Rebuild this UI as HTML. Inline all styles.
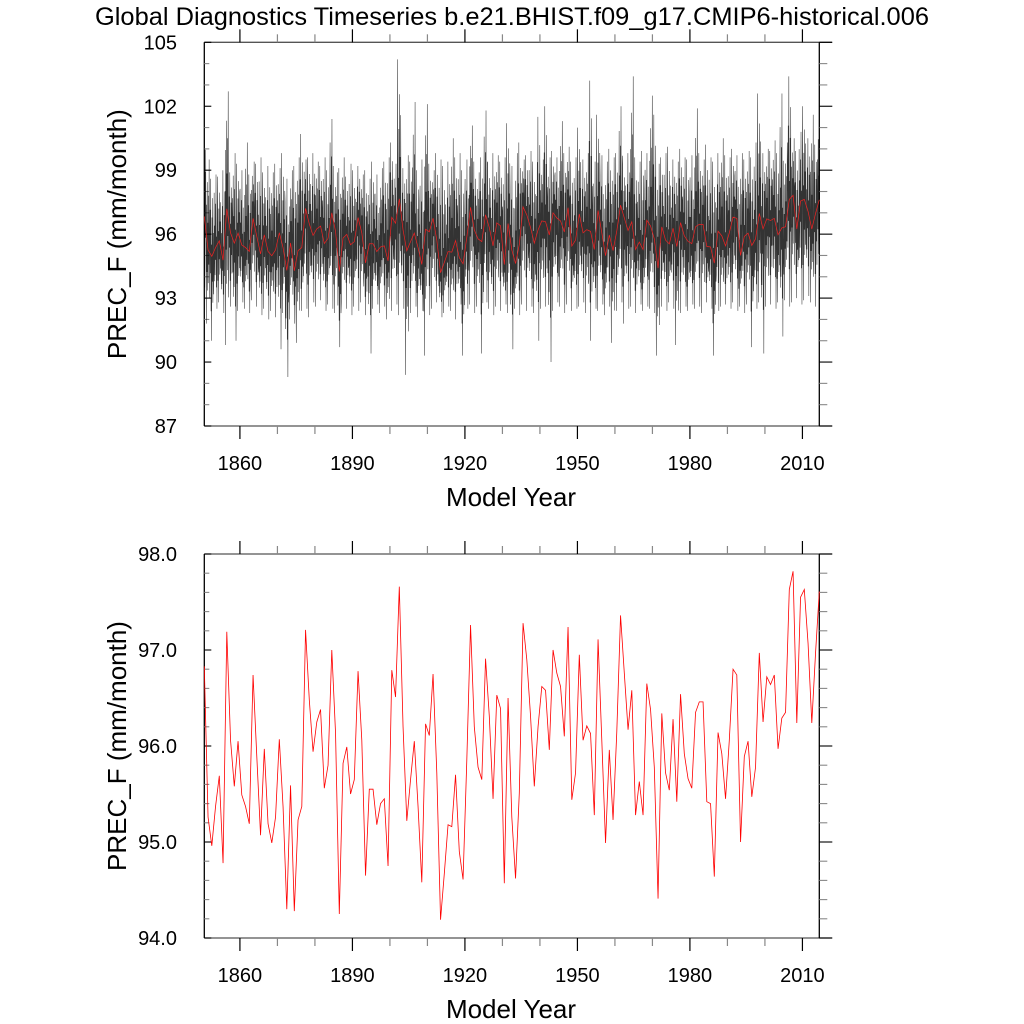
<!DOCTYPE html>
<html><head><meta charset="utf-8">
<style>
html,body{margin:0;padding:0;background:#fff;}
svg{display:block;font-family:"Liberation Sans",Arial,sans-serif;}
</style></head>
<body>
<svg id="chart" width="1024" height="1024" viewBox="0 0 1024 1024" xmlns="http://www.w3.org/2000/svg">
<rect width="1024" height="1024" fill="#fff"/>
<text x="512" y="25" font-size="25" text-anchor="middle" textLength="834" lengthAdjust="spacingAndGlyphs">Global Diagnostics Timeseries b.e21.BHIST.f09_g17.CMIP6-historical.006</text>
<g id="top"></g>
<g id="bot"></g>
</svg>
<script>
const annual = [96.83,95.26,94.96,95.37,95.69,94.78,97.19,96.06,95.58,96.05,
95.49,95.37,95.19,96.74,95.89,95.07,95.97,95.19,94.99,95.26,
96.07,95.37,94.30,95.59,94.28,95.23,95.37,97.21,96.48,95.94,
96.25,96.38,95.56,95.80,97.00,96.13,94.25,95.82,95.99,95.50,
95.65,96.78,96.06,94.65,95.55,95.55,95.18,95.40,95.45,94.75,
96.79,96.51,97.66,96.20,95.22,95.65,96.05,95.37,94.58,96.23,
96.11,96.75,95.72,94.19,94.67,95.18,95.16,95.70,94.90,94.61,
95.85,97.26,96.20,95.78,95.65,96.91,96.31,95.45,96.53,96.39,
94.57,96.50,95.26,94.62,95.51,97.28,96.90,96.31,95.58,96.20,
96.62,96.58,95.96,97.00,96.76,96.62,96.10,97.24,95.44,95.72,
96.95,96.06,96.21,96.13,95.28,97.11,96.06,94.99,95.96,95.23,
96.15,97.36,96.76,96.17,96.58,95.28,95.63,95.28,96.65,96.38,
95.78,94.41,96.34,95.72,95.54,96.28,95.42,96.54,95.92,95.66,
95.56,96.35,96.46,96.46,95.42,95.40,94.64,96.14,95.92,95.45,
96.06,96.80,96.74,95.00,95.89,96.05,95.47,95.78,96.97,96.25,
96.72,96.64,96.74,95.97,96.29,96.35,97.63,97.82,96.24,97.55,
97.63,97.07,96.24,96.97,97.61];
const monthHi = [101.0,99.5,98.6,98.8,98.7,99.0,102.7,98.9,99.8,99.3,
99.0,100.3,98.8,99.4,99.3,99.6,98.9,99.2,98.9,99.3,
99.1,99.8,98.6,99.0,99.2,99.6,100.7,99.5,99.6,99.8,
99.4,99.2,99.6,99.0,101.4,98.9,99.1,99.6,98.7,99.3,
99.0,99.2,98.8,99.0,98.6,99.4,98.8,99.1,99.4,99.6,
100.3,99.3,104.2,99.1,99.7,99.4,102.2,99.0,99.5,102.1,
99.3,99.0,99.8,99.5,99.2,99.4,100.5,99.6,99.8,99.0,
99.5,101.1,99.4,98.9,99.6,101.8,99.4,99.8,99.7,99.4,
99.6,101.2,99.2,99.8,100.3,99.5,99.7,99.9,99.4,101.5,
99.5,102.0,99.6,99.9,99.6,101.3,99.8,100.1,99.4,99.6,
101.0,99.5,99.8,103.2,99.4,101.6,99.7,99.4,100.0,99.6,
99.8,102.0,99.3,99.8,103.4,99.6,99.4,99.9,99.8,102.5,
101.6,99.3,99.6,99.8,100.1,99.5,99.4,100.0,99.6,99.5,
99.7,101.9,99.8,99.5,100.2,99.6,99.4,99.8,100.5,99.7,
99.6,100.0,99.7,99.8,99.5,99.9,99.6,100.3,102.6,99.8,
100.0,99.9,100.4,99.8,102.6,100.3,103.4,100.5,99.9,100.8,
102.0,100.5,101.6,100.2,101.4];
const monthLo = [93.5,91.8,91.0,92.5,92.8,92.3,90.8,92.6,91.0,92.4,
92.8,92.5,92.3,92.9,92.6,92.2,92.5,92.0,92.4,92.1,
90.6,92.3,89.3,92.0,91.8,90.9,92.4,92.5,92.1,92.8,
92.6,92.9,92.4,92.7,92.5,92.3,90.7,92.8,92.5,92.2,
92.6,92.4,92.8,92.2,90.4,92.5,92.7,92.3,92.6,92.0,
92.4,92.7,92.2,92.5,89.4,92.3,92.6,92.1,92.4,90.3,
92.2,92.5,92.8,92.1,92.3,92.6,92.4,92.0,92.7,90.3,
92.5,92.7,92.3,92.6,90.4,92.8,92.5,92.2,92.6,92.4,
92.7,92.3,90.6,92.5,92.2,92.7,92.4,92.6,92.3,91.0,
92.5,92.6,90.0,92.4,92.8,92.6,92.3,92.7,92.4,92.5,
92.6,92.8,92.3,91.0,92.5,92.4,92.7,92.2,92.6,90.9,
92.4,92.8,91.8,92.5,92.6,92.3,92.7,92.4,92.6,92.5,
92.3,90.3,92.6,92.4,92.8,92.5,90.8,92.3,92.6,92.4,
92.7,92.5,92.6,92.3,92.8,92.5,90.3,92.4,92.6,92.7,
92.5,92.8,92.4,92.6,92.3,92.7,90.7,92.5,92.8,90.4,
92.6,92.7,92.5,92.8,91.2,92.9,92.6,92.8,93.0,92.7,
92.9,93.1,92.8,92.6,93.0];
const monthShape = [0.3,-0.45,0.6,-0.2,1,-0.65,0.15,-1,0.5,-0.3,0.75,-0.55];
const xTicks = [1860,1890,1920,1950,1980,2010];
const topYTicks = [87,90,93,96,99,102,105];
const botYTicks = ["94.0","95.0","96.0","97.0","98.0"];

const NS = "http://www.w3.org/2000/svg";
const X0 = 204.3, X1 = 819.3, YR0 = 1850.5, YR1 = 2014.5;
function xs(yr){ return X0 + (yr - YR0) * (X1 - X0) / (YR1 - YR0); }
function mk(tag, attrs, parent){
  const e = document.createElementNS(NS, tag);
  for (const k in attrs) e.setAttribute(k, attrs[k]);
  parent.appendChild(e); return e;
}

function panel(g, top, bot, ymin, ymax, majorStep, minorStep, yLabels){
  const ys = v => bot - (v - ymin) * (bot - top) / (ymax - ymin);
  const frame = mk('g', {}, g);
  
  
  mk('line', {x1:X0, y1:top, x2:832, y2:top, stroke:'#555', 'stroke-width':1.3}, frame);
  mk('line', {x1:X0, y1:bot, x2:832, y2:bot, stroke:'#555', 'stroke-width':1.3}, frame);
  mk('line', {x1:X0, y1:top, x2:X0, y2:bot, stroke:'#000', 'stroke-width':1.3}, frame);
  mk('line', {x1:X1, y1:top, x2:X1, y2:bot, stroke:'#000', 'stroke-width':1.3}, frame);
  for (let yr = 1860; yr <= 2010; yr += 10){
    const x = xs(yr), major = (yr - 1860) % 30 === 0, L = major ? 13 : 8;
    const c = major ? '#000' : '#888';
    mk('line', {x1:x, y1:top, x2:x, y2:top - L, stroke:c, 'stroke-width':1.2}, frame);
    mk('line', {x1:x, y1:bot, x2:x, y2:bot + L, stroke:c, 'stroke-width':1.2}, frame);
  }
  xTicks.forEach(yr => {
    const t = mk('text', {x:xs(yr), y:bot + 44, 'font-size':20, 'text-anchor':'middle'}, g);
    
    
    t.textContent = yr;
  });
  const nMinor = Math.round((ymax - ymin) / minorStep);
  for (let k = 0; k <= nMinor; k++){
    const v = ymin + k * minorStep, y = ys(v);
    const major = Math.abs((v - ymin) / majorStep - Math.round((v - ymin) / majorStep)) < 1e-6;
    mk('line', {x1:X0, y1:y, x2:X0 + (major ? 7 : 5), y2:y, stroke:major ? '#000' : '#888', 'stroke-width':1.1}, frame);
    mk('line', {x1:X1, y1:y, x2:X1 + (major ? 13 : 8), y2:y, stroke:major ? '#000' : '#888', 'stroke-width':1.1}, frame);
  }
  yLabels.forEach(lab => {
    const t = mk('text', {x:177, y:ys(parseFloat(lab)) + 7, 'font-size':20, 'text-anchor':'end'}, g);
    
    
    t.textContent = lab;
  });
  const yt = mk('text', {x:0, y:0, 'font-size':26, 'text-anchor':'middle', transform:`translate(126,${(top+bot)/2}) rotate(-90)`}, g);
  
  
  yt.textContent = 'PREC_F (mm/month)';
  const xt = mk('text', {x:511, y:bot + 80, 'font-size':26, 'text-anchor':'middle'}, g);
  
  
  xt.textContent = 'Model Year';
  return ys;
}

const gTop = document.getElementById('top');
const ysT = panel(gTop, 42.3, 426, 87, 105, 3, 1, topYTicks.map(String));
let pts = [];
for (let i = 0; i < annual.length; i++){
  const a = annual[i];
  for (let m = 0; m < 12; m++){
    const f = monthShape[(m + i * 7) % 12];
    const v = f >= 0 ? a + f * (monthHi[i] - a) : a + (-f) * (monthLo[i] - a);
    const yr = YR0 + i + (m - 5.5) / 12;
    const x = Math.min(X1, Math.max(X0, xs(yr)));
    pts.push(x.toFixed(2) + ',' + ysT(v).toFixed(2));
  }
}
const mline = mk('polyline', {points:pts.join(' '), fill:'none', stroke:'#000', 'stroke-width':0.55, 'stroke-opacity':0.8}, gTop);


const rTop = mk('polyline', {points:annual.map((v,i)=>xs(YR0+i).toFixed(2)+','+ysT(v).toFixed(2)).join(' '), fill:'none', stroke:'#e22', 'stroke-width':0.7}, gTop);



const gBot = document.getElementById('bot');
const ysB = panel(gBot, 554, 938, 94, 98, 1, 0.2, botYTicks);
const rBot = mk('polyline', {points:annual.map((v,i)=>xs(YR0+i).toFixed(2)+','+ysB(v).toFixed(2)).join(' '), fill:'none', stroke:'#f00', 'stroke-width':0.8}, gBot);


</script>
</body></html>
